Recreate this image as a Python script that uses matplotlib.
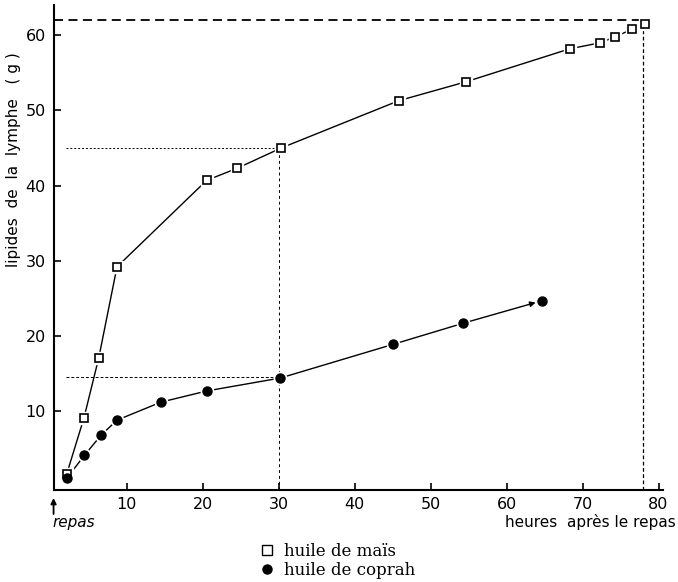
import matplotlib
matplotlib.use("Agg")
from matplotlib import pyplot as plt
from matplotlib.lines import Line2D

# huile de maïs (carrés)
x_mais = [2.1, 4.35, 6.3, 8.7, 20.5, 24.5, 30.3, 45.8, 54.6, 68.3, 72.3, 74.3, 76.5, 78.2]
y_mais = [1.7, 9.1, 17.1, 29.2, 40.7, 42.3, 45.0, 51.3, 53.8, 58.2, 59.0, 59.8, 60.8, 61.5]

# huile de coprah (points)
x_coprah = [2.1, 4.4, 6.6, 8.7, 14.5, 20.6, 30.2, 45.1, 54.3, 64.7]
y_coprah = [1.1, 4.1, 6.8, 8.8, 11.2, 12.7, 14.4, 18.9, 21.7, 24.7]

xticks = [10, 20, 30, 40, 50, 60, 70, 80]
yticks = [10, 20, 30, 40, 50, 60]

# repères
y_max, x_max = 62.0, 78.0
x_rep, y_rep_mais, y_rep_coprah = 30.0, 45.0, 14.5

fig = plt.figure(figsize=(6.78, 5.82), dpi=100)
ax = fig.add_axes([0.0796, 0.158, 0.978 - 0.0796, 0.991 - 0.158])
ax.set_xlim(0.4, 80.6)
ax.set_ylim(-0.5, 64)

for s in ("top", "right"):
    ax.spines[s].set_visible(False)
for s in ("left", "bottom"):
    ax.spines[s].set_linewidth(1.5)

ax.set_xticks(xticks)
ax.set_yticks(yticks)
ax.tick_params(direction="in", length=5, width=1.2, labelsize=11.5)
ax.tick_params(axis="x", pad=5)
ax.tick_params(axis="y", pad=6)

# lignes de repère
ax.plot([0.4, x_max], [y_max, y_max], color="k", lw=1.3, dashes=(5, 3))
ax.plot([x_max, x_max], [-0.5, y_max], color="k", lw=0.9, dashes=(3, 2))
ax.plot([2, x_rep], [y_rep_mais, y_rep_mais], color="k", lw=0.7, dashes=(2, 2))
ax.plot([x_rep, x_rep], [-0.5, y_rep_mais], color="k", lw=0.7, dashes=(3, 3))
ax.plot([2, x_rep], [y_rep_coprah, y_rep_coprah], color="k", lw=0.7, dashes=(3, 2))

# maïs
ax.plot(x_mais, y_mais, color="k", lw=1.0, zorder=3)
ax.plot(x_mais, y_mais, ls="none", marker="s", ms=9, mfc="white", mec="white", zorder=4)
ax.plot(x_mais, y_mais, ls="none", marker="s", ms=5.5, mfc="white", mec="k", mew=1.2, zorder=5)

# coprah
ax.plot(x_coprah[:-1], y_coprah[:-1], color="k", lw=1.0, zorder=3)
ax.annotate("", xy=(x_coprah[-1], y_coprah[-1]), xytext=(x_coprah[-2], y_coprah[-2]),
            arrowprops=dict(arrowstyle="-|>", lw=1.0, color="k", shrinkA=0, shrinkB=5,
                            mutation_scale=8), zorder=3)
ax.plot(x_coprah, y_coprah, ls="none", marker="o", ms=9, mfc="white", mec="white", zorder=4)
ax.plot(x_coprah, y_coprah, ls="none", marker="o", ms=6.5, mfc="k", mec="k", zorder=5)

# textes
fig.text(0.020, 0.725, "lipides  de  la  lymphe   ( g )", rotation=90,
         ha="center", va="center", fontsize=11)
fig.text(0.997, 0.103, "heures  après le repas", ha="right", va="center", fontsize=11)
fig.text(0.077, 0.103, "repas", ha="left", va="center", fontsize=11, style="italic")
ax.annotate("", xy=(0.079, 1 - 498 / 582), xytext=(0.079, 1 - 514 / 582),
            xycoords="figure fraction",
            arrowprops=dict(arrowstyle="-|>", lw=1.3, color="k", mutation_scale=8,
                            shrinkA=0, shrinkB=0))

handles = [
    Line2D([], [], ls="none", marker="s", ms=7, mfc="white", mec="k", mew=1.0),
    Line2D([], [], ls="none", marker="o", ms=6.5, mfc="k", mec="k"),
]
fig.legend(handles, ["huile de maïs", "huile de coprah"], loc="upper left",
           bbox_to_anchor=(0.372, 0.082), frameon=False, handlelength=0.8,
           handletextpad=0.6, labelspacing=0.15, borderpad=0,
           prop={"family": "DejaVu Serif", "size": 12})

fig.savefig("out.png", dpi=100)
